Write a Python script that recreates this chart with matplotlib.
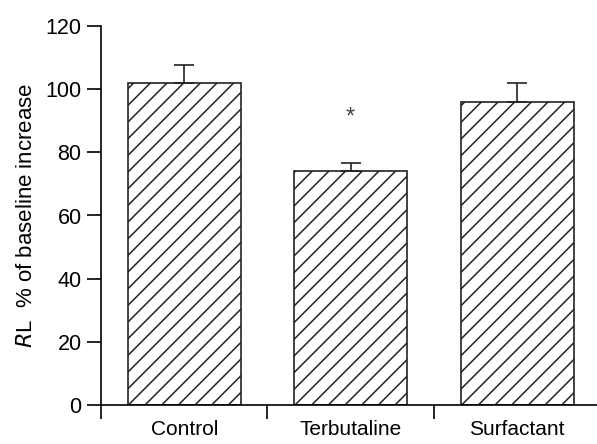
import matplotlib.pyplot as plt
import numpy as np
from matplotlib.ticker import FixedLocator

plt.rcParams['font.family'] = ['Liberation Sans', 'DejaVu Sans']
plt.rcParams['hatch.linewidth'] = 1.1

groups = ['Control', 'Terbutaline', 'Surfactant']
means = [102, 74, 96]
errors = [5.5, 2.5, 6]
star_y = 91

fig = plt.figure(figsize=(5.97, 4.44), dpi=100)
ax = fig.add_axes([101/597, 39/444, 1 - 101/597, (405-26)/444])

x = np.arange(len(groups)) + 0.5
ax.bar(x, means, width=0.68, color='white', edgecolor='#222222', hatch='//', linewidth=1.2, zorder=2)
ax.errorbar(x, means, yerr=[np.zeros(3), errors], fmt='none', ecolor='#222222',
            elinewidth=1.2, capsize=7, capthick=1.2, zorder=3)
ax.text(x[1], star_y, '*', ha='center', va='center', fontsize=17, color='#444444')

ax.set_xlim(0, 2.98)
ax.set_ylim(0, 120)
ax.set_yticks([0, 20, 40, 60, 80, 100, 120])
ax.set_xticks(x)
ax.set_xticklabels(groups)
ax.xaxis.set_minor_locator(FixedLocator([0, 1, 2]))
ax.tick_params(axis='x', which='major', length=0, pad=11, labelsize=15)
ax.tick_params(axis='x', which='minor', length=10, width=1.2, direction='out')
ax.tick_params(axis='y', length=10, width=1.2, direction='out', pad=4, labelsize=15.5)

for s in ['top', 'right']:
    ax.spines[s].set_visible(False)
ax.spines['left'].set_linewidth(1.2)
ax.spines['bottom'].set_linewidth(1.2)

ax.set_ylabel(r'$\mathit{R}$L  % of baseline increase', fontsize=16, labelpad=6)

fig.savefig('out.png', dpi=100)
